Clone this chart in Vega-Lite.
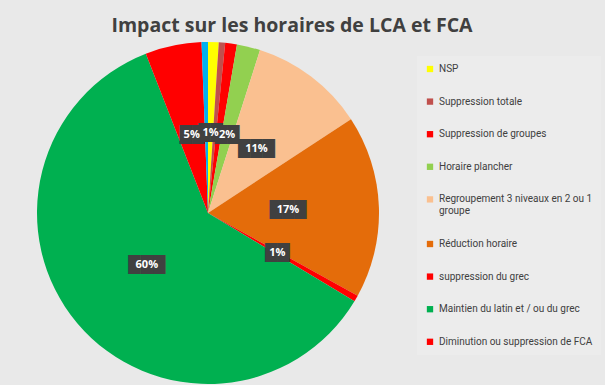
{
  "$schema": "https://vega.github.io/schema/vega-lite/v6.json",
  "width": 416,
  "height": 342,
  "autosize": {"type": "none"},
  "padding": {"left": 0, "top": 42, "right": 189, "bottom": 1},
  "background": "#e9e9e9",
  "title": {
    "text": "Impact sur les horaires de LCA et FCA",
    "font": "Open Sans",
    "fontSize": 19.5,
    "fontWeight": "bold",
    "color": "#404040",
    "anchor": "middle",
    "dx": 84,
    "offset": 6
  },
  "data": {
    "values": [
      {"order": 1, "categorie": "NSP", "valeur": 1.0, "label": "1%"},
      {"order": 2, "categorie": "Suppression totale", "valeur": 0.6, "label": ""},
      {"order": 3, "categorie": "Suppression de groupes", "valeur": 1.1, "label": ""},
      {"order": 4, "categorie": "Horaire plancher", "valeur": 2.2, "label": "2%"},
      {"order": 5, "categorie": "Regroupement 3 niveaux en 2 ou 1 groupe", "valeur": 10.8, "label": "11%"},
      {"order": 6, "categorie": "Réduction horaire", "valeur": 17.2, "label": "17%"},
      {"order": 7, "categorie": "suppression du grec", "valeur": 0.6, "label": "1%"},
      {"order": 8, "categorie": "Maintien du latin et / ou du grec", "valeur": 60.2, "label": "60%"},
      {"order": 9, "categorie": "Diminution ou suppression de FCA", "valeur": 5.3, "label": "5%"},
      {"order": 10, "categorie": "Autre", "valeur": 0.6, "label": ""}
    ]
  },
  "encoding": {
    "theta": {"field": "valeur", "type": "quantitative", "stack": true},
    "order": {"field": "order", "type": "quantitative"}
  },
  "layer": [
    {
      "mark": {"type": "arc", "outerRadius": 171},
      "encoding": {
        "color": {
          "field": "categorie",
          "type": "nominal",
          "scale": {
            "domain": ["NSP", "Suppression totale", "Suppression de groupes", "Horaire plancher", "Regroupement 3 niveaux en 2 ou 1 groupe", "Réduction horaire", "suppression du grec", "Maintien du latin et / ou du grec", "Diminution ou suppression de FCA", "Autre"],
            "range": ["#FFFF00", "#C0504D", "#FF0000", "#92D050", "#FAC090", "#E46C0A", "#FF0000", "#00B050", "#FF0000", "#00B0F0"]
          },
          "legend": {
            "title": null,
            "values": ["NSP", "Suppression totale", "Suppression de groupes", "Horaire plancher", "Regroupement 3 niveaux en 2 ou 1 groupe", "Réduction horaire", "suppression du grec", "Maintien du latin et / ou du grec", "Diminution ou suppression de FCA"],
            "labelExpr": "datum.label == 'Regroupement 3 niveaux en 2 ou 1 groupe' ? ['Regroupement 3 niveaux en 2 ou 1', 'groupe'] : datum.label",
            "symbolType": "square",
            "symbolSize": 40,
            "symbolStrokeWidth": 0,
            "labelFont": "Roboto",
            "labelFontSize": 10,
            "labelColor": "#404040",
            "labelLimit": 200,
            "labelOffset": 4,
            "rowPadding": 22.6,
            "padding": 8,
            "fillColor": "#ececec",
            "orient": "none",
            "legendX": 417,
            "legendY": 14
          }
        }
      }
    },
    {
      "transform": [
        {"calculate": "length(datum.label) == 0 ? '' : (length(datum.label) == 2 ? '██' : '███')", "as": "box"}
      ],
      "mark": {"type": "text", "radius": 80, "font": "DejaVu Sans", "fontSize": 16, "color": "#404040", "baseline": "middle"},
      "encoding": {"text": {"field": "box"}}
    },
    {
      "mark": {"type": "text", "radius": 80, "font": "Open Sans", "fontSize": 11, "fontWeight": "bold", "color": "#ffffff", "baseline": "middle"},
      "encoding": {"text": {"field": "label"}}
    }
  ]
}
